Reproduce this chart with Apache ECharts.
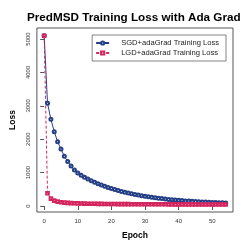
<!DOCTYPE html>
<html>
<head>
<meta charset="utf-8">
<script src="https://cdn.jsdelivr.net/npm/echarts@6/dist/echarts.min.js"></script>
<style>html,body{margin:0;padding:0;background:#fff}#c{width:249px;height:249px}</style>
</head>
<body>
<div id="c"></div>
<script>
const epochs = Array.from({length: 55}, (_, i) => i);
const sgdLoss = [5100,3075,2600,2225,1925,1705,1490,1330,1200,1080,990,920,860,805,755,710,668,628,590,555,522,492,463,437,412,388,366,345,326,308,291,275,260,246,233,221,209,198,188,178,169,161,153,146,139,133,127,121,116,111,106,102,98,94,90];
const lgdLoss = [5100,380,220,160,130,112,100,92,86,81,77,74,71,69,67,65,63,62,61,60,59,58,57,56,55,55,54,54,53,53,52,52,51,51,50,50,50,49,49,49,48,48,48,47,47,47,46,46,46,46,45,45,45,45,44];
const xTicks = [0,10,20,30,40,50];
const yTicks = [0,1000,2000,3000,4000,5000];
const seriesNames = ['SGD+adaGrad Training Loss','LGD+adaGrad Training Loss'];

const blue = '#243f86';
const red = '#d3265f';
const chart = echarts.init(document.getElementById('c'), null, {renderer: 'canvas'});
chart.setOption({
  animation: false,
  title: {
    text: 'PredMSD Training Loss with Ada Grad',
    left: 22, top: 7,
    textStyle: {fontFamily: 'Liberation Sans', fontWeight: 'bold', fontSize: 11.7, color: '#000'}
  },
  grid: {left: 28.5, right: 16, top: 28, bottom: 37, show: true, borderColor: '#555', borderWidth: 1, backgroundColor: 'transparent'},
  legend: {
    orient: 'vertical', right: 23, top: 35,
    data: seriesNames,
    itemWidth: 13, itemHeight: 4, itemGap: 2,
    padding: [4, 7, 4, 3],
    borderColor: '#666', borderWidth: 0.8,
    textStyle: {fontFamily: 'Liberation Sans', fontSize: 7.6, color: '#222', padding: [0, 0, 0, 7]}
  },
  xAxis: {
    type: 'value', min: -2.16, max: 56.16,
    name: 'Epoch', nameLocation: 'middle', nameGap: 19,
    nameTextStyle: {fontFamily: 'Liberation Sans', fontWeight: 'bold', fontSize: 8.5, color: '#000'},
    axisLine: {show: false},
    splitLine: {show: false},
    axisTick: {show: true, inside: false, length: 4, lineStyle: {color: '#555'}, customValues: xTicks},
    axisLabel: {fontFamily: 'Liberation Sans', fontSize: 6, color: '#333', margin: 6, customValues: xTicks, formatter: v => String(v)}
  },
  yAxis: {
    type: 'value', min: -180, max: 5330,
    name: 'Loss', nameLocation: 'middle', nameGap: 17,
    nameTextStyle: {fontFamily: 'Liberation Sans', fontWeight: 'bold', fontSize: 8.5, color: '#000'},
    axisLine: {show: false},
    splitLine: {show: false},
    axisTick: {show: true, inside: false, length: 4, lineStyle: {color: '#555'}, customValues: yTicks},
    axisLabel: {fontFamily: 'Liberation Sans', fontSize: 6, color: '#333', rotate: 90, margin: 6, customValues: yTicks, formatter: v => String(v)}
  },
  series: [
    {
      name: seriesNames[0], type: 'line',
      data: epochs.map((e, i) => [e, sgdLoss[i]]),
      symbol: 'emptyCircle', symbolSize: 3, showAllSymbol: true,
      lineStyle: {color: blue, width: 1},
      itemStyle: {color: blue, borderColor: blue, borderWidth: 0.9}
    },
    {
      name: seriesNames[1], type: 'line',
      data: epochs.map((e, i) => [e, lgdLoss[i]]),
      symbol: 'emptyRect', symbolSize: 2.6, showAllSymbol: true,
      lineStyle: {color: red, width: 1, type: [3, 2]},
      itemStyle: {color: red, borderColor: red, borderWidth: 0.8}
    }
  ]
});
</script>
</body>
</html>
